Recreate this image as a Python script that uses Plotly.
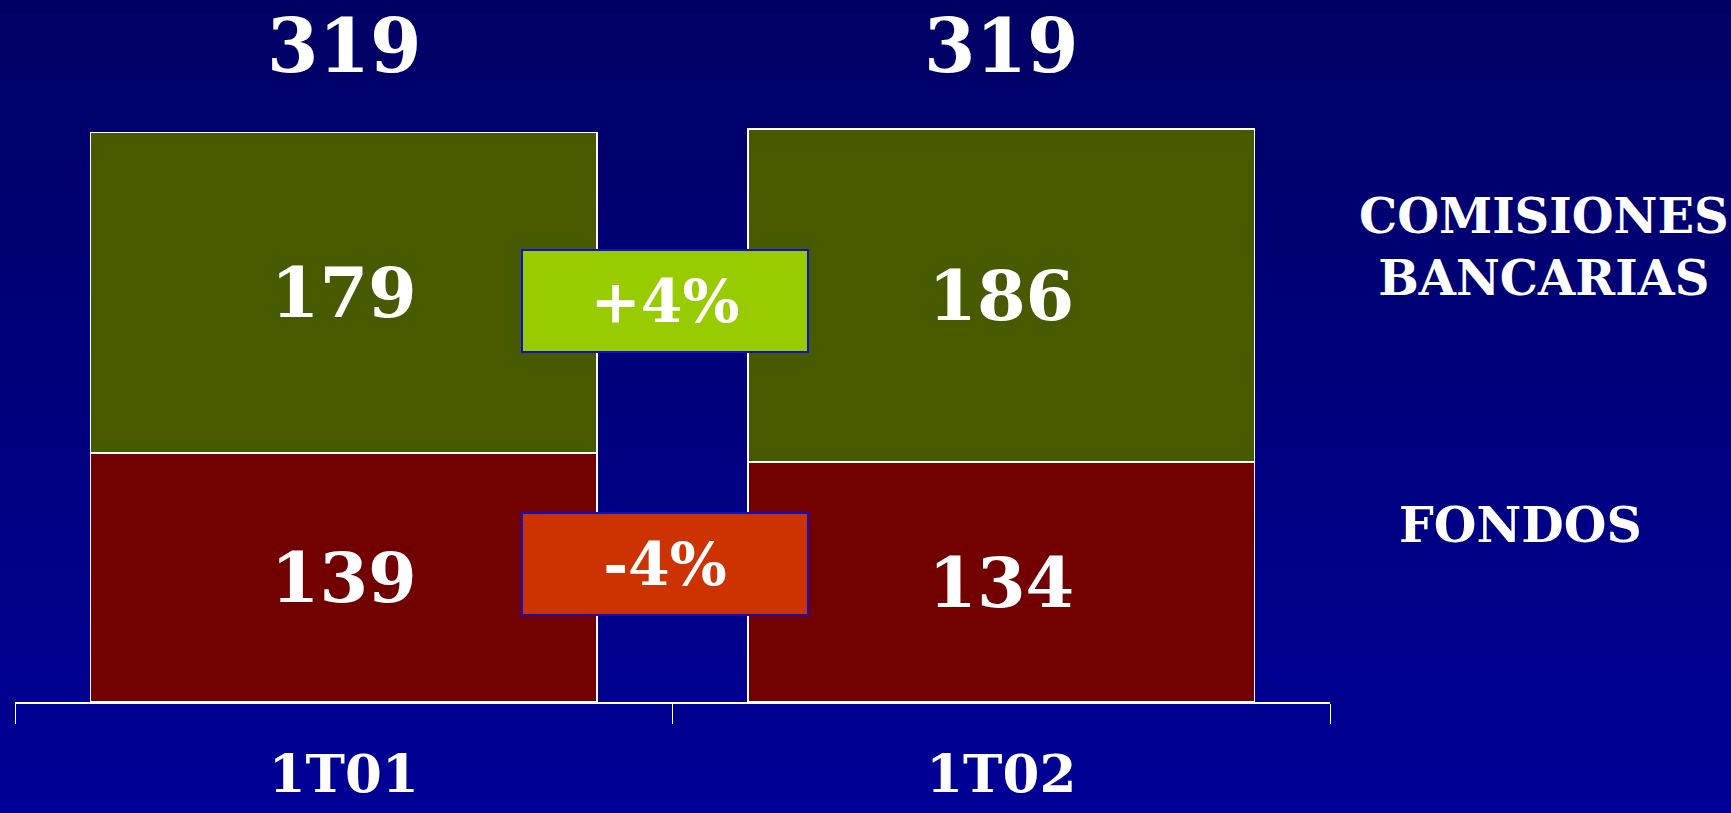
import plotly.graph_objects as go

categories = ["1T01", "1T02"]
series_names = ["FONDOS", "COMISIONES<br>BANCARIAS"]
fondos = [139, 134]
comisiones = [179, 186]
totals = [319, 319]
changes = ["+4%", "-4%"]

W, H = 1731, 813
L, R, T, B = 15, 401, 0, 111
FONT = "DejaVu Serif"

fig = go.Figure()
fig.add_trace(go.Bar(
    x=categories, y=fondos, name=series_names[0],
    marker=dict(color="#730000", line=dict(color="white", width=1.5)),
    text=[str(v) for v in fondos], textposition="inside", insidetextanchor="middle",
    textangle=0, textfont=dict(family=FONT, size=70, color="white", weight="bold"),
    width=0.77,
))
fig.add_trace(go.Bar(
    x=categories, y=comisiones, name=series_names[1],
    marker=dict(color="#485a00", line=dict(color="white", width=1.5)),
    text=[str(v) for v in comisiones], textposition="inside", insidetextanchor="middle",
    textangle=0, textfont=dict(family=FONT, size=70, color="white", weight="bold"),
    width=0.77,
))

# gradient background bands
shapes = []
n = 60
y0p = -B / (H - B - T)
y1p = 1.0 + T / (H - B - T)
for i in range(n):
    f = i / (n - 1)
    b = int(round(150 - 50 * f))
    ya = y0p + (y1p - y0p) * i / n
    yb = y0p + (y1p - y0p) * (i + 1) / n
    shapes.append(dict(type="rect", xref="paper", yref="paper",
                       x0=-0.05, x1=1.35, y0=ya, y1=yb + 0.002,
                       fillcolor=f"rgb(0,0,{b})", line=dict(width=0), layer="below"))

annotations = []
for c, t in zip(categories, totals):
    annotations.append(dict(x=c, xref="x", y=0.934, yref="paper", text=str(t),
                            showarrow=False, yanchor="middle",
                            font=dict(family=FONT, size=74, color="white", weight="bold")))

box_styles = [("#99cc00", 0.571), ("#cc3300", 0.197)]
for txt, (col, yp) in zip(changes, box_styles):
    annotations.append(dict(x=0.488, xref="x", y=yp, yref="paper", text=txt,
                            showarrow=False, xanchor="center", yanchor="middle",
                            width=284, height=100, bgcolor=col, bordercolor="#1010cc",
                            borderwidth=2, borderpad=0,
                            font=dict(family=FONT, size=60, color="white", weight="bold")))

annotations.append(dict(x=1.163, xref="paper", y=0.648, yref="paper", text=series_names[1],
                        showarrow=False, xanchor="center", yanchor="middle",
                        font=dict(family=FONT, size=48, color="white", weight="bold")))
annotations.append(dict(x=1.145, xref="paper", y=0.252, yref="paper", text=series_names[0],
                        showarrow=False, xanchor="center", yanchor="middle",
                        font=dict(family=FONT, size=49, color="white", weight="bold")))

fig.update_layout(
    width=W, height=H, margin=dict(l=L, r=R, t=T, b=B, autoexpand=False),
    barmode="stack", showlegend=False,
    paper_bgcolor="rgb(0,0,150)", plot_bgcolor="rgba(0,0,0,0)",
    shapes=shapes, annotations=annotations,
    xaxis=dict(range=[-0.5, 1.5], showline=True, linecolor="white", linewidth=2,
               ticks="outside", tickson="boundaries", ticklen=20, tickcolor="white", tickwidth=1,
               tickfont=dict(family=FONT, size=53, color="white", weight="bold"),
               ticklabelstandoff=24, showgrid=False, zeroline=False, automargin=False),
    yaxis=dict(range=[0, 392], visible=False, showgrid=False, zeroline=False, automargin=False),
)

fig.write_html("out.html", config={"displayModeBar": False},
               post_script="document.body.style.margin='0';document.body.style.overflow='hidden';")
